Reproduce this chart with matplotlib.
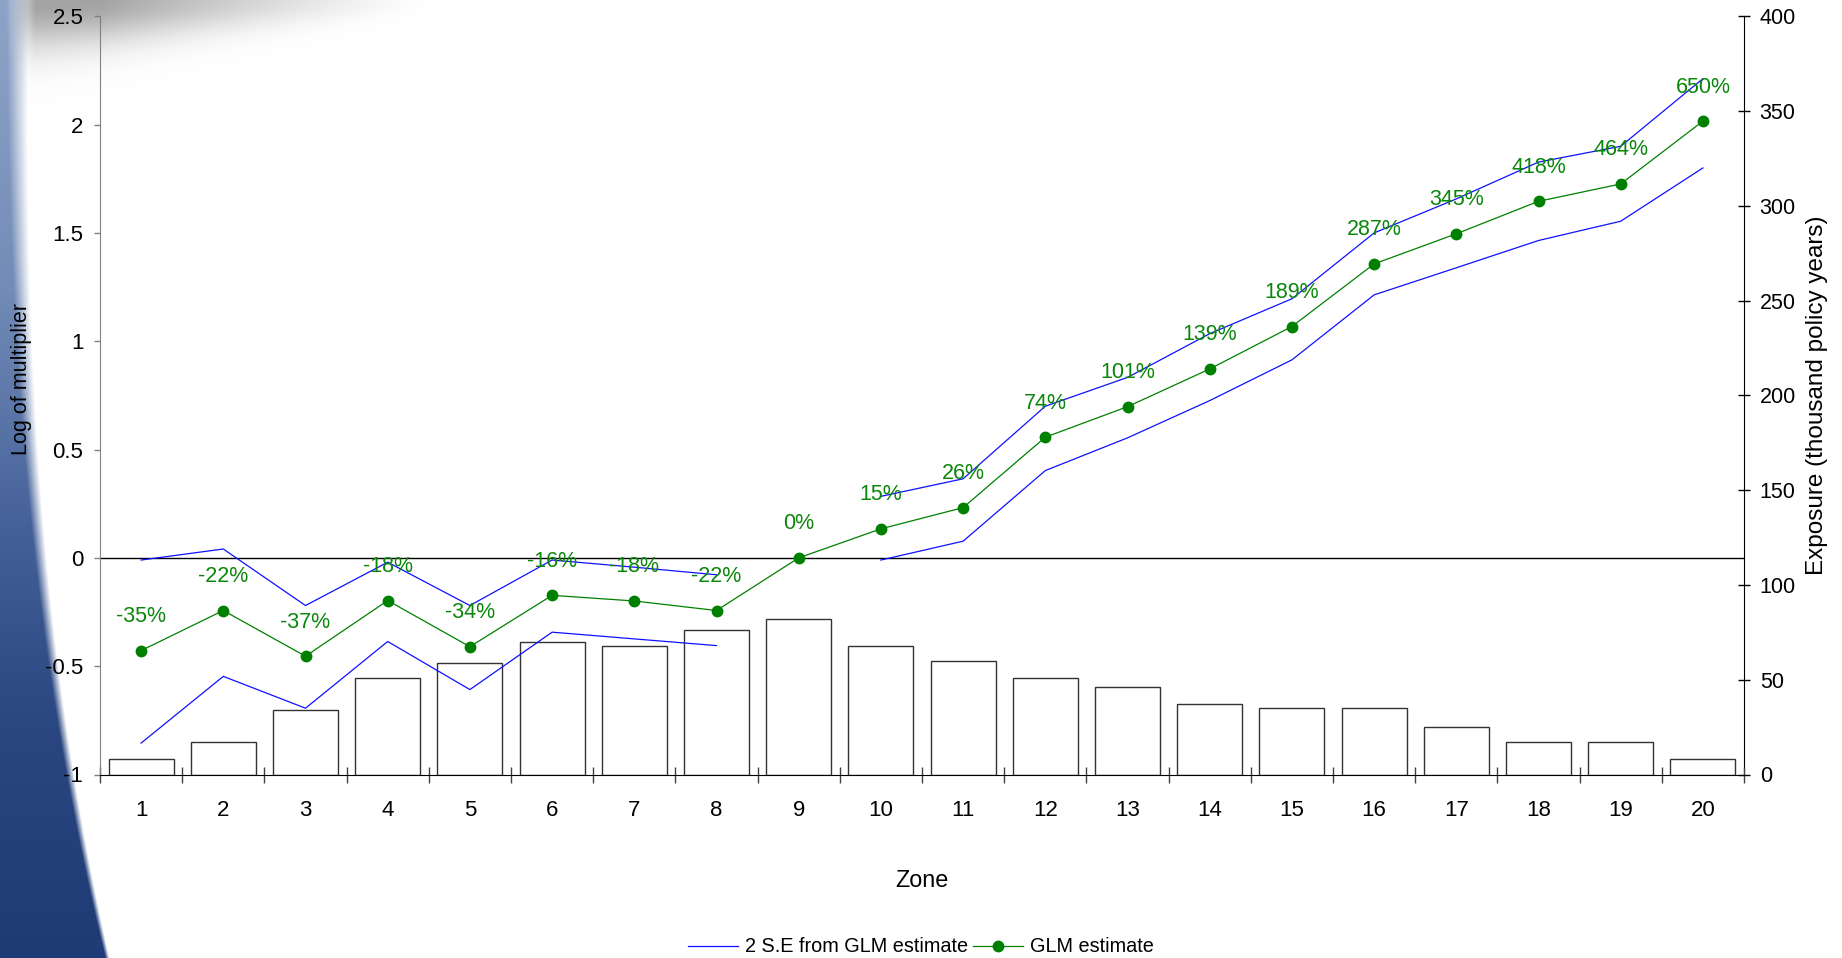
import numpy as np
import matplotlib
matplotlib.use("Agg")
import matplotlib.pyplot as plt
from matplotlib import ticker
from matplotlib.lines import Line2D

plt.rcParams['font.family'] = ['Liberation Sans', 'DejaVu Sans']
plt.rcParams['axes.unicode_minus'] = False

# ---------------- data ----------------
zones = [str(i) for i in range(1, 21)]
exposure = [8, 17, 34, 51, 59, 70, 68, 76, 82, 68, 60, 51, 46, 37, 35, 35, 25, 17, 17, 8]
glm_estimate = [-0.428, -0.243, -0.454, -0.197, -0.41, -0.173, -0.199, -0.243, 0.0, 0.134,
                0.232, 0.557, 0.698, 0.872, 1.068, 1.357, 1.496, 1.646, 1.726, 2.016]
se_upper = [-0.01, 0.041, -0.22, -0.02, -0.22, -0.01, -0.043, -0.078, np.nan, 0.284,
            0.365, 0.70, 0.833, 1.035, 1.196, 1.50, 1.657, 1.827, 1.90, 2.212]
se_lower = [-0.855, -0.547, -0.694, -0.386, -0.608, -0.343, -0.374, -0.405, np.nan, -0.01,
            0.077, 0.403, 0.554, 0.726, 0.914, 1.214, 1.339, 1.465, 1.554, 1.80]
pct_labels = ['-35%', '-22%', '-37%', '-18%', '-34%', '-16%', '-18%', '-22%', '0%', '15%',
              '26%', '74%', '101%', '139%', '189%', '287%', '345%', '418%', '464%', '650%']
left_ticks = [-1, -0.5, 0, 0.5, 1, 1.5, 2, 2.5]
right_ticks = [0, 50, 100, 150, 200, 250, 300, 350, 400]

W, H = 1842, 958
fig = plt.figure(figsize=(W / 100, H / 100), dpi=100)

# ---------------- decorative background ----------------
yy, xx = np.mgrid[0:H, 0:W].astype(np.float32)
t = yy / H
img = np.ones((H, W, 3), dtype=np.float32)
edge = 17 + 90 * t ** 2.5
soft = 22 - 18 * t
alpha = np.clip((edge - xx) / soft + 0.5, 0, 1)
stops = [0.0, 0.3, 0.55, 0.75, 1.0]
cols = np.array([[0.56, 0.64, 0.78], [0.45, 0.55, 0.72], [0.27, 0.38, 0.60],
                 [0.17, 0.28, 0.51], [0.12, 0.23, 0.46]])
blue = np.stack([np.interp(t, stops, cols[:, c]) for c in range(3)], axis=-1)
img = img * (1 - alpha[..., None]) + blue * alpha[..., None]
# top shadow
h = np.clip(50 - 0.09 * xx, 8, None)
taper = np.clip((430 - xx) / 330, 0, 1) ** 1.3 * np.clip((xx - 10) / 25, 0, 1)
shade = 0.36 * np.exp(-(yy / h) ** 2) * taper
img = img * (1 - shade[..., None])
bg = fig.add_axes([0, 0, 1, 1], zorder=-10)
bg.imshow(img, aspect='auto', extent=(0, 1, 0, 1), interpolation='bilinear')
bg.axis('off')

# ---------------- axes ----------------
left, right, top, bottom = 100, 1744, 16.3, 774.5
ax = fig.add_axes([left / W, 1 - bottom / H, (right - left) / W, (bottom - top) / H])
ax2 = ax.twinx()
ax.set_zorder(ax2.get_zorder() + 1)
ax.patch.set_visible(False)
ax2.patch.set_visible(False)

x = np.arange(len(zones))

ax2.bar(x, exposure, width=0.79, facecolor='white', edgecolor='#333333', linewidth=1.0)
ax2.set_ylim(0, 400)
ax2.set_yticks(right_ticks)
ax2.tick_params(axis='y', direction='inout', length=8.6, width=1, color='black',
                pad=7, labelsize=15.5)
for s in ['top', 'left', 'bottom']:
    ax2.spines[s].set_visible(False)
ax2.spines['right'].set_color('black')
ax2.set_ylabel('Exposure (thousand policy years)', fontsize=17.5)
ax2.yaxis.set_label_coords(1.038, 0.5)

ax.axhline(0, color='black', lw=1, zorder=1)
ax.plot(x, se_upper, color='#1010ff', lw=0.9, zorder=3)
ax.plot(x, se_lower, color='#1010ff', lw=0.9, zorder=3)
ax.plot(x, glm_estimate, color='#008000', lw=0.9, marker='o', ms=7.5, zorder=4)
for xi, yi, lab in zip(x, glm_estimate, pct_labels):
    ax.annotate(lab, (xi, yi), xytext=(0, 24.5), textcoords='offset points',
                ha='center', va='center', color='#0a870a', fontsize=15.5, zorder=5)

ax.set_xlim(-0.5, len(zones) - 0.5)
ax.set_ylim(-1, 2.5)
ax.set_yticks(left_ticks)
ax.yaxis.set_major_formatter(ticker.FormatStrFormatter('%g'))
ax.tick_params(axis='y', direction='out', length=4, width=1, color='#808080',
               pad=8, labelsize=16)
ax.set_xticks(x)
ax.set_xticklabels(zones)
ax.set_xticks(np.arange(-0.5, len(zones), 1), minor=True)
ax.tick_params(axis='x', which='major', length=0, pad=18, labelsize=16)
ax.tick_params(axis='x', which='minor', direction='inout', length=11, width=1,
               color='#404040')
ax.spines['top'].set_visible(False)
ax.spines['right'].set_visible(False)
ax.spines['left'].set_color('#808080')
ax.spines['bottom'].set_color('black')

ax.set_ylabel('Log of multiplier', fontsize=15.5)
ax.yaxis.set_label_coords(-0.0415, 0.522)
ax.set_xlabel('Zone', fontsize=16.8)
ax.xaxis.set_label_coords(0.5, -0.125)

handles = [Line2D([], [], color='#1010ff', lw=0.9),
           Line2D([], [], color='#008000', lw=0.9, marker='o', ms=7.5)]
fig.legend(handles, ['2 S.E from GLM estimate', 'GLM estimate'], loc='center',
           bbox_to_anchor=(0.5, 1 - 947 / H), ncol=2, frameon=False, fontsize=14.3,
           handlelength=2.5, handletextpad=0.35, columnspacing=0.25)

fig.savefig('out.png', dpi=100)
